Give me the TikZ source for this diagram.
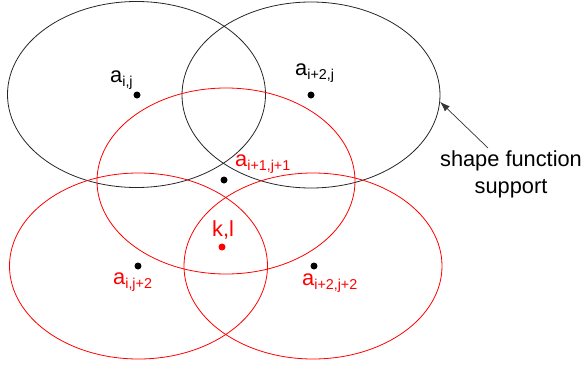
\documentclass[tikz,border=0pt]{standalone}
\usepackage{fontspec}
\setmainfont{Liberation Sans}
\usepackage{xcolor}
\usepackage{tikz}
\usetikzlibrary{shapes.geometric, arrows.meta}

\newcommand{\idx}[1]{\raisebox{-4pt}{\fontsize{14.3}{15}\selectfont #1}}

\begin{document}
\begin{tikzpicture}[x=1pt, y=-1pt,
    support/.style={draw, ellipse, minimum width=258pt, minimum height=186pt, inner sep=0pt, line width=0.8pt},
    dot/.style={circle, fill, inner sep=0pt, minimum size=7pt},
    lbl/.style={inner sep=0pt, anchor=base west, font=\fontsize{21.8}{27}\selectfont}]
    \useasboundingbox (0,0) rectangle (584,367);

    % supports of the shape functions
    \node[support, black!85] (sij) at (136.5,94.5) {};
    \node[support, black!85] (sij2) at (311,95) {};
    \node[support, red] (smid) at (226,181) {};
    \node[support, red] (sjl) at (138.5,266) {};
    \node[support, red] (sjr) at (313,266) {};

    % nodes
    \node[dot] (aij) at (137,95) {};
    \node[dot] (aij2) at (311,95) {};
    \node[dot] (amid) at (224,180) {};
    \node[dot, red] (kl) at (222,247) {};
    \node[dot] (ajl) at (138,266) {};
    \node[dot] (ajr) at (314,266) {};

    % labels
    \node[lbl] (taij) at (110,82) {a\idx{i,j}};
    \node[lbl] (taij2) at (295,75) {a\idx{i+2,j}};
    \node[lbl, red] (tamid) at (235,166) {a\idx{i+1,j+1}};
    \node[lbl, red] (tkl) at (212,236) {k,l};
    \node[lbl, red] (tajl) at (113,284) {a\idx{i,j+2}};
    \node[lbl, red] (tajr) at (302,285) {a\idx{i+2,j+2}};

    % annotation
    \node[lbl, anchor=north, align=center] (sf) at (511,151) {shape function\\support};
    \draw[-{Latex[length=10pt,width=7pt]}, line width=0.7pt, black!80] ([xshift=-23pt,yshift=3pt]sf.north) -- (sij2.-3);
\end{tikzpicture}
\end{document}
